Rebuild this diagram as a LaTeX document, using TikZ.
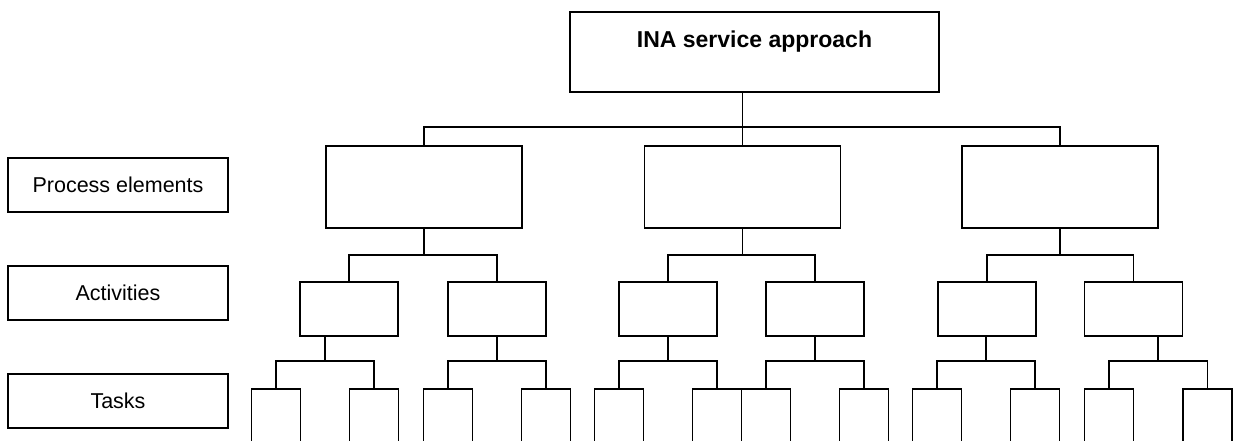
\documentclass[tikz,border=0pt]{standalone}
\usepackage{fontspec}
\setmainfont{Liberation Sans}
\usetikzlibrary{calc}
\begin{document}
\begin{tikzpicture}[x=1pt,y=-1pt, line width=1.6pt, line cap=rect,
  box/.style={draw, rectangle, inner sep=0pt},
  levelbox/.style={box, minimum width=220pt, minimum height=54pt,
                   font=\fontsize{21.5}{24}\selectfont},
  elembox/.style={box, minimum width=196pt, minimum height=82pt},
  actbox/.style={box, minimum width=98pt, minimum height=54pt},
  taskbox/.style={box, minimum width=49pt, minimum height=80pt}]
  \useasboundingbox (0,0) rectangle (1233,441);
  \clip (0,0) rectangle (1233,441);

  % root
  \node[box, minimum width=369pt, minimum height=80pt] (root) at (754.5,52) {};
  \node[anchor=base, font=\fontsize{23}{26}\selectfont\bfseries] (roottext)
    at ($(root.north)+(0,36)$) {INA service approach};

  % level legend on the left
  \node[levelbox] (lvpe)   at (118,185) {Process elements};
  \node[levelbox] (lvact)  at (118,293) {Activities};
  \node[levelbox] (lvtask) at (118,401) {Tasks};

  % process elements
  \node[elembox] (pe1) at (424,187) {};
  \node[elembox] (pe2) at (742.5,187) {};
  \node[elembox] (pe3) at (1060,187) {};

  % activities
  \node[actbox] (a1) at (349,309) {};
  \node[actbox] (a2) at (497,309) {};
  \node[actbox] (a3) at (668,309) {};
  \node[actbox] (a4) at (815,309) {};
  \node[actbox] (a5) at (987,309) {};
  \node[actbox] (a6) at (1133.5,309) {};

  % tasks (open at the bottom edge)
  \foreach \n/\x in {1/276,2/374,3/448,4/546,5/619,6/717,7/766,8/864,
                     9/937,10/1035,11/1109,12/1207.5}
    \node[taskbox] (t\n) at (\x,429) {};

  % root to process elements
  \coordinate (b0) at ($(pe2.north)+(0,-18)$);
  \draw (pe2.north) -- (pe2.north |- root.south);
  \draw (pe1.north) |- (b0) -| (pe3.north);

  % process elements to activities
  \foreach \p/\l/\r in {pe1/a1/a2, pe2/a3/a4, pe3/a5/a6}{
    \coordinate (m\p) at ($(\p.south)+(0,26)$);
    \draw (\p.south) -- (m\p);
    \draw (\l.north) |- (m\p) -| (\r.north);
  }

  % activities to tasks
  \foreach \a/\l/\r in {a1/t1/t2, a2/t3/t4, a3/t5/t6, a4/t7/t8, a5/t9/t10, a6/t11/t12}{
    \coordinate (m\a) at ($(\l.north)!0.5!(\r.north)+(0,-27)$);
    \draw (m\a) -- (m\a |- \a.south);
    \draw (\l.north) |- (m\a) -| (\r.north);
  }
\end{tikzpicture}
\end{document}
